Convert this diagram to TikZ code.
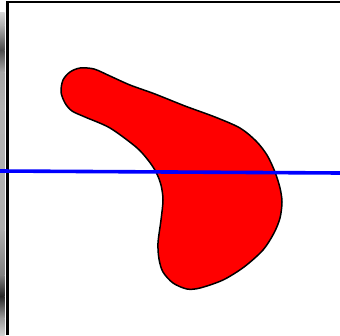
\documentclass[tikz,border=0pt]{standalone}
\begin{document}
\begin{tikzpicture}[x=1pt,y=-1pt,
  framestyle/.style={black,line width=2.6pt},
  blobstyle/.style={draw=black,fill=red,line width=1.5pt,line join=round},
  cutline/.style={blue,line width=3.6pt}]
\useasboundingbox (0,0) rectangle (340,335);
% left gradient strip
\shade[top color=black!15,bottom color=black!30] (0,12) rectangle (4.5,25);
\shade[top color=black!30,bottom color=black!70] (0,25) rectangle (4.5,50);
\shade[top color=black!70,bottom color=black!35] (0,50) rectangle (4.5,72);
\shade[top color=black!35,bottom color=black!30] (0,72) rectangle (4.5,110);
\shade[top color=black!30,bottom color=black!32] (0,110) rectangle (4.5,230);
\shade[top color=black!32,bottom color=black!50] (0,230) rectangle (4.5,275);
\shade[top color=black!50,bottom color=black!85] (0,275) rectangle (4.5,296);
\shade[top color=black!85,bottom color=black!40] (0,296) rectangle (4.5,318);
\shade[top color=black!40,bottom color=black!18] (0,318) rectangle (4.5,335);
% frame
\draw[framestyle] (7.5,335) -- (7.5,2) -- (340,2);
% blob
\draw[blobstyle] plot[smooth cycle,tension=0.5] coordinates {
(61,92) (63,80) (70,72) (80,68) (94,69) (110,76) (130,85) (155,94)
(185,106) (215,117) (240,128) (256,141) (267,155) (275,172) (280,188)
(282,202) (280,218) (274,233) (263,250) (244,267) (223,280) (200,288)
(187,289) (173,283) (163,272) (159,259) (158,243) (161,220) (163,200)
(161,185) (156,172) (148,160) (136,147) (110,128) (85,117) (72,111) (65,103)};
% blue line
\coordinate (l) at (0,171);
\coordinate (r) at (340,173);
\draw[cutline] (l) -- (r);
\end{tikzpicture}
\end{document}
